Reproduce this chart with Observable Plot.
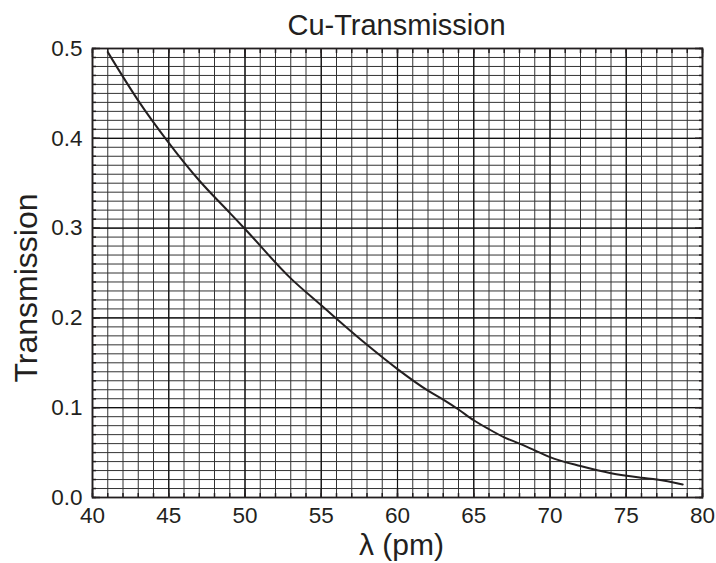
<!DOCTYPE html>
<html>
<head>
<meta charset="utf-8">
<script src="https://cdn.jsdelivr.net/npm/d3@7"></script>
<script src="https://cdn.jsdelivr.net/npm/@observablehq/plot@0.6"></script>
<style>
  html, body { margin: 0; padding: 0; background: #fff; }
  svg { font-family: "Liberation Sans", Arial, sans-serif; }
</style>
</head>
<body>
<div id="chart"></div>
<script>
const wavelength = [41, 43, 45, 47, 49, 50, 53, 55, 56, 58, 60, 62, 63, 64, 65, 66, 67, 68, 69, 70, 72, 74, 76, 77, 78.7];
const transmission = [0.496, 0.442, 0.395, 0.353, 0.317, 0.299, 0.244, 0.214, 0.199, 0.170, 0.143, 0.119, 0.109, 0.098, 0.086, 0.076, 0.067, 0.060, 0.0525, 0.045, 0.035, 0.027, 0.022, 0.020, 0.0145];
const xMajor = [40, 45, 50, 55, 60, 65, 70, 75, 80];
const xMinor = d3.range(40, 81, 1);
const yMajor = [0, 0.1, 0.2, 0.3, 0.4, 0.5];
const yMinor = d3.range(0, 51, 1).map(d => d / 100);
const title = "Cu-Transmission";
const xLabel = "λ (pm)";
const yLabel = "Transmission";

const data = wavelength.map((x, i) => ({x, y: transmission[i]}));
const ink = "#231f20";

const chart = Plot.plot({
  width: 716,
  height: 563,
  marginLeft: 92,
  marginRight: 14,
  marginTop: 48,
  marginBottom: 66,
  style: {fontFamily: "'Liberation Sans', Arial, sans-serif", color: ink, background: "#fff"},
  x: {domain: [40, 80]},
  y: {domain: [0, 0.5]},
  marks: [
    Plot.gridX(xMinor, {stroke: "#333", strokeOpacity: 1, strokeWidth: 1}),
    Plot.gridY(yMinor, {stroke: "#333", strokeOpacity: 1, strokeWidth: 1}),
    Plot.gridX(xMajor, {stroke: "#111", strokeOpacity: 1, strokeWidth: 1.2}),
    Plot.gridY(yMajor, {stroke: "#111", strokeOpacity: 1, strokeWidth: 1.2}),
    // inward minor ticks
    Plot.axisX(xMinor, {anchor: "bottom", tickSize: -4, text: null, label: null, strokeWidth: 1.5}),
    Plot.axisX(xMinor, {anchor: "top", tickSize: -4, text: null, label: null, strokeWidth: 1.5}),
    Plot.axisY(yMinor, {anchor: "left", tickSize: -4, text: null, label: null, strokeWidth: 1.5}),
    Plot.axisY(yMinor, {anchor: "right", tickSize: -4, text: null, label: null, strokeWidth: 1.5}),
    // inward major ticks
    Plot.axisX(xMajor, {anchor: "bottom", tickSize: -8, text: null, label: null, strokeWidth: 1.5}),
    Plot.axisX(xMajor, {anchor: "top", tickSize: -8, text: null, label: null, strokeWidth: 1.5}),
    Plot.axisY(yMajor, {anchor: "left", tickSize: -8, text: null, label: null, strokeWidth: 1.5}),
    Plot.axisY(yMajor, {anchor: "right", tickSize: -8, text: null, label: null, strokeWidth: 1.5}),
    // tick labels (through the x / y scales)
    Plot.text(xMajor, {x: d => d, text: d => String(d), frameAnchor: "bottom", lineAnchor: "top", dy: 10, fontSize: 22.5, fill: ink}),
    Plot.text(yMajor, {y: d => d, text: d => d3.format(".1f")(d), frameAnchor: "left", textAnchor: "end", dx: -10, fontSize: 22.5, fill: ink}),
    Plot.frame({stroke: ink, strokeWidth: 1.8}),
    Plot.line(data, {x: "x", y: "y", stroke: ink, strokeWidth: 2, curve: "monotone-x"}),
    Plot.text([title], {frameAnchor: "top", dy: -34, dx: -1, fontSize: 29, fill: ink}),
    Plot.text([xLabel], {frameAnchor: "bottom", dy: 57, dx: 4, fontSize: 30, fill: ink}),
    Plot.text([yLabel], {frameAnchor: "left", textAnchor: "middle", dx: -66, dy: 15, rotate: -90, fontSize: 32, fill: ink})
  ]
});
document.getElementById("chart").appendChild(chart);
</script>
</body>
</html>
